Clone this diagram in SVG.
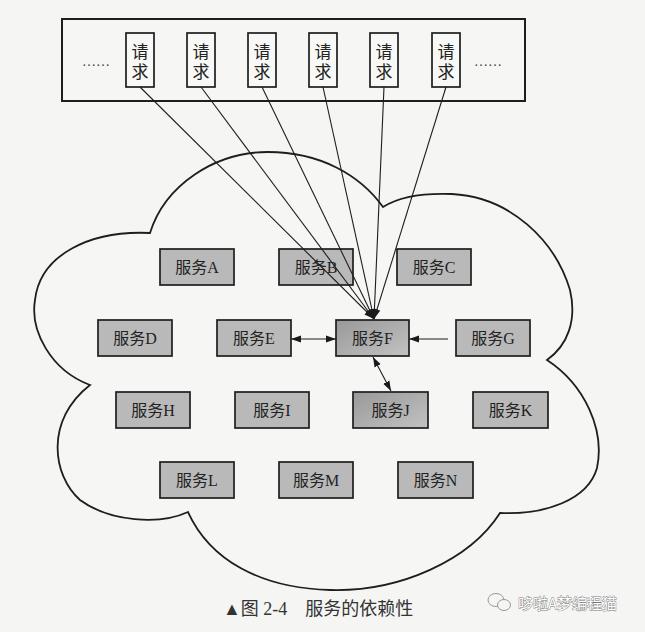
<svg xmlns="http://www.w3.org/2000/svg" width="645" height="632" viewBox="0 0 645 632">
<style>
  .bg{fill:#f5f5f3}
  .svc{fill:#b9b9b9;stroke:#1e1e1e;stroke-width:1.7}
  .hot{fill:url(#hotGrad);stroke:#1e1e1e;stroke-width:1.7}
  .req{fill:#f8f8f6;stroke:#1e1e1e;stroke-width:1.7}
  .t{font-family:"Liberation Serif","Noto Sans CJK SC",serif;font-size:16px;fill:#222;text-anchor:middle}
  .rt{font-family:"Liberation Serif","Noto Sans CJK SC",serif;font-size:17px;fill:#222;text-anchor:middle}
  .dots{font-family:"Liberation Serif",serif;font-size:14px;fill:#444}
  .ln{stroke:#1e1e1e;stroke-width:1.1;fill:none}
  .cap{font-family:"Liberation Serif","Noto Sans CJK SC",serif;font-size:18px;fill:#333}
  .wm{font-family:"Noto Sans CJK SC",sans-serif;font-size:15px;fill:#ffffff;stroke:#777;stroke-width:0.8;paint-order:stroke}
</style>
<defs>
  <linearGradient id="hotGrad" x1="0" y1="0" x2="1" y2="1">
    <stop offset="0" stop-color="#999999"/>
    <stop offset="1" stop-color="#c2c2c2"/>
  </linearGradient>
  <marker id="ah" markerUnits="userSpaceOnUse" markerWidth="10" markerHeight="8" refX="10" refY="4" orient="auto-start-reverse">
    <path d="M0,0.5 L10,4 L0,7.5 Z" fill="#1a1a1a"/>
  </marker>
</defs>
<rect class="bg" x="0" y="0" width="645" height="632"/>

<g id="cloud">
  <path d="M150,233 C165,185 215,152 268,152 C320,152 360,175 383,207 C400,196 425,193 452,194 C510,197 555,240 570,290 C577,320 568,345 547,360 C585,385 605,430 597,468 C588,500 545,515 500,513 C470,560 400,592 330,590 C260,588 210,560 188,512 C160,525 110,522 80,500 C52,475 45,420 90,385 C50,370 30,330 35,300 C40,255 90,230 150,233 Z" fill="#f6f6f4" stroke="#1e1e1e" stroke-width="1.8"/>
</g>

<g id="requests">
  <rect x="62" y="19" width="463" height="82" fill="#f6f6f4" stroke="#1e1e1e" stroke-width="2"/>
  <text class="dots" x="82" y="66">……</text>
  <text class="dots" x="474" y="66">……</text>
  <g id="req1"><rect class="req" x="126" y="33" width="28" height="54"/><text class="rt" x="140" y="58">请</text><text class="rt" x="140" y="78">求</text></g>
  <g id="req2"><rect class="req" x="187" y="33" width="28" height="54"/><text class="rt" x="201" y="58">请</text><text class="rt" x="201" y="78">求</text></g>
  <g id="req3"><rect class="req" x="248" y="33" width="28" height="54"/><text class="rt" x="262" y="58">请</text><text class="rt" x="262" y="78">求</text></g>
  <g id="req4"><rect class="req" x="309" y="33" width="28" height="54"/><text class="rt" x="323" y="58">请</text><text class="rt" x="323" y="78">求</text></g>
  <g id="req5"><rect class="req" x="370" y="33" width="28" height="54"/><text class="rt" x="384" y="58">请</text><text class="rt" x="384" y="78">求</text></g>
  <g id="req6"><rect class="req" x="432" y="33" width="28" height="54"/><text class="rt" x="446" y="58">请</text><text class="rt" x="446" y="78">求</text></g>
</g>

<g id="svcA"><rect class="svc" x="160" y="249" width="74" height="36"/><text class="t" x="197" y="273">服务A</text></g>
<g id="svcB"><rect class="svc" x="279" y="249" width="74" height="36"/><text class="t" x="316" y="273">服务B</text></g>
<g id="svcC"><rect class="svc" x="397" y="249" width="74" height="36"/><text class="t" x="434" y="273">服务C</text></g>
<g id="svcD"><rect class="svc" x="98" y="320" width="74" height="36"/><text class="t" x="135" y="344">服务D</text></g>
<g id="svcE"><rect class="svc" x="217" y="320" width="74" height="36"/><text class="t" x="254" y="344">服务E</text></g>
<g id="svcF"><rect class="hot" x="336" y="320" width="73" height="36"/><text class="t" x="372.5" y="344">服务F</text></g>
<g id="svcG"><rect class="svc" x="456" y="320" width="74" height="36"/><text class="t" x="493" y="344">服务G</text></g>
<g id="svcH"><rect class="svc" x="116" y="392" width="74" height="36"/><text class="t" x="153" y="416">服务H</text></g>
<g id="svcI"><rect class="svc" x="235" y="392" width="74" height="36"/><text class="t" x="272" y="416">服务I</text></g>
<g id="svcJ"><rect class="hot" x="353" y="392" width="75" height="36"/><text class="t" x="390.5" y="416">服务J</text></g>
<g id="svcK"><rect class="svc" x="473" y="392" width="75" height="36"/><text class="t" x="510.5" y="416">服务K</text></g>
<g id="svcL"><rect class="svc" x="160" y="462" width="74" height="36"/><text class="t" x="197" y="486">服务L</text></g>
<g id="svcM"><rect class="svc" x="279" y="462" width="74" height="36"/><text class="t" x="316" y="486">服务M</text></g>
<g id="svcN"><rect class="svc" x="398" y="462" width="75" height="36"/><text class="t" x="435.5" y="486">服务N</text></g>

<g id="connectors">
  <line class="ln" x1="140" y1="87" x2="374" y2="319" marker-end="url(#ah)"/>
  <line class="ln" x1="201" y1="87" x2="374" y2="319" marker-end="url(#ah)"/>
  <line class="ln" x1="262" y1="87" x2="374" y2="319" marker-end="url(#ah)"/>
  <line class="ln" x1="323" y1="87" x2="374" y2="319" marker-end="url(#ah)"/>
  <line class="ln" x1="384" y1="87" x2="374" y2="319" marker-end="url(#ah)"/>
  <line class="ln" x1="446" y1="87" x2="374" y2="319" marker-end="url(#ah)"/>
  <line class="ln" x1="291" y1="339" x2="336" y2="339" marker-start="url(#ah)" marker-end="url(#ah)"/>
  <line class="ln" x1="448" y1="339" x2="409" y2="339" marker-end="url(#ah)"/>
  <line class="ln" x1="373" y1="357" x2="391" y2="391" marker-start="url(#ah)" marker-end="url(#ah)"/>
</g>

<g id="caption">
  <text class="cap" x="223" y="615">▲图 2-4　服务的依赖性</text>
</g>
<g id="watermark">
  <ellipse cx="496" cy="600" rx="8" ry="6.5" fill="none" stroke="#999" stroke-width="1"/>
  <ellipse cx="504" cy="605" rx="6.5" ry="5.5" fill="#f5f5f3" stroke="#999" stroke-width="1"/>
  <text class="wm" x="518" y="609">哆啦A梦编程猫</text>
</g>
</svg>
